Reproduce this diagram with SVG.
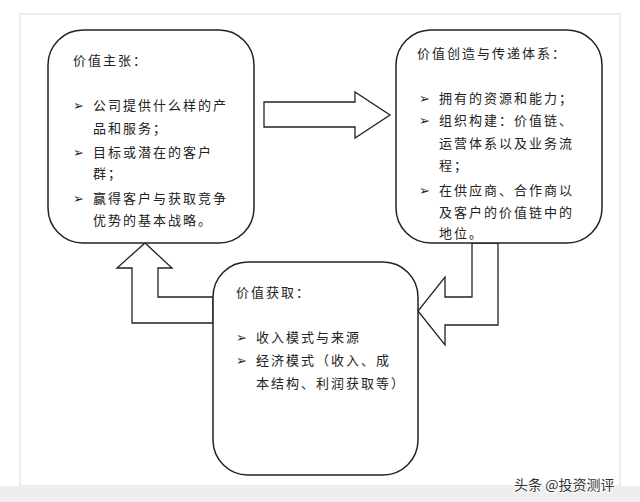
<svg xmlns="http://www.w3.org/2000/svg" width="640" height="502" viewBox="0 0 640 502">
<style>
.b{fill:#fff;stroke:#222;stroke-width:1.5}
.a{fill:#fff;stroke:#222;stroke-width:1.3}
text{font-family:"Noto Sans CJK SC","Noto Sans",sans-serif;font-size:13px;fill:#222;letter-spacing:2px}
.w{font-size:14px;fill:#333;letter-spacing:0;stroke:#fff;stroke-width:2;paint-order:stroke}
</style>
<rect width="640" height="502" fill="#fff"/>
<rect x="20" y="14" width="600" height="472" fill="none" stroke="#ddd" stroke-width="1"/>
<rect x="0" y="486" width="640" height="16" fill="#eee"/>
<g id="connectors">
<polygon class="a" points="264,102 355,102 355,92 390,115 355,138 355,127 264,127"/>
<polygon class="a" points="472,243 498,243 498,325 445,325 445,345 418,311 445,277 445,297 472,297"/>
<polygon class="a" points="213,297 158,297 158,268 172,268 145,243 117,268 132,268 132,323 213,323"/>
</g>
<g id="n1">
<rect class="b" x="48" y="30" width="206" height="213" rx="35"/>
<text x="73" y="65">价值主张：</text>
<text x="73" y="110">➢</text><text x="93" y="110">公司提供什么样的产</text>
<text x="93" y="133">品和服务；</text>
<text x="73" y="157">➢</text><text x="93" y="157">目标或潜在的客户</text>
<text x="93" y="178">群；</text>
<text x="73" y="203">➢</text><text x="93" y="203">赢得客户与获取竞争</text>
<text x="93" y="225">优势的基本战略。</text>
</g>
<g id="n2">
<rect class="b" x="396" y="30" width="206" height="213" rx="35"/>
<text x="417" y="58">价值创造与传递体系：</text>
<text x="419" y="103">➢</text><text x="439" y="103">拥有的资源和能力；</text>
<text x="419" y="125">➢</text><text x="439" y="125">组织构建：价值链、</text>
<text x="439" y="148">运营体系以及业务流</text>
<text x="439" y="170">程；</text>
<text x="419" y="195">➢</text><text x="439" y="195">在供应商、合作商以</text>
<text x="439" y="217">及客户的价值链中的</text>
<text x="439" y="238">地位。</text>
</g>
<g id="n3">
<rect class="b" x="213" y="262" width="205" height="213" rx="35"/>
<text x="236" y="297">价值获取：</text>
<text x="236" y="342">➢</text><text x="256" y="342">收入模式与来源</text>
<text x="236" y="365">➢</text><text x="256" y="365">经济模式（收入、成</text>
<text x="256" y="388">本结构、利润获取等）</text>
</g>
<text class="w" x="514" y="490">头条 @投资测评</text>
</svg>
